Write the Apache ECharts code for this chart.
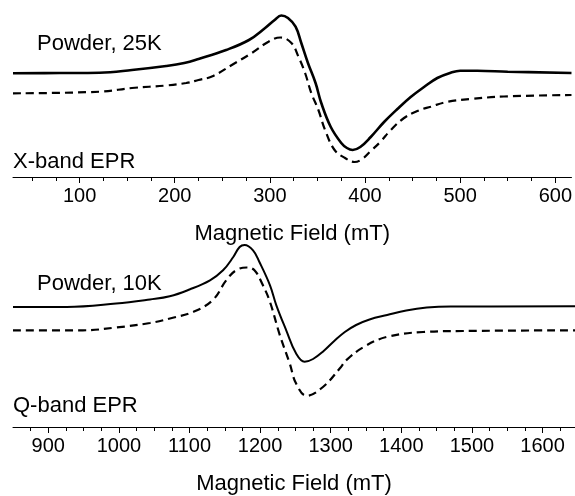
<!DOCTYPE html>
<html>
<head>
<meta charset="utf-8">
<script src="https://cdn.jsdelivr.net/npm/echarts@6/dist/echarts.min.js"></script>
<style>html,body{margin:0;padding:0;background:#fff}#c{width:575px;height:496px}</style>
</head>
<body>
<div id="c"></div>
<script>
// X-band (25 K) — field in mT, intensity in arbitrary units
const xbandMeasField = [30,79,121,155,191,210,225,254,278,295,305,312,319,327,333,340,348,354,364,375,381,387,395,406,420,434,448,462,476,490,500,518,550,617];
const xbandMeasVal   = [103.7,104,104.3,107,111,114,118,127,137,149,157,161.5,159,150.3,134,114,94,74,50,34,29,27,30,40,55,68,80,90,99,104.3,106.3,106.3,105.3,104];
const xbandSimField  = [30,121,155,191,212,225,239,260,281,298.5,311,322.6,330,337,343.5,351,358,368,379,389,397,406,416,427,441,455,469,487,511,546,617];
const xbandSimVal    = [83.7,85.3,89,91.5,94,97,100.5,112,124,135.3,139.5,134,120.3,104,84,67,47,27,19,15,18,26,35,47,59,66,70.3,75.3,78,80.5,82];
// Q-band (10 K)
const qbandMeasField = [850,926,996,1044,1072,1100,1129,1147.5,1162,1171,1178,1190,1199,1214,1223,1237,1251,1263,1275,1290,1305,1320,1336,1355,1380,1407,1436,1470,1646];
const qbandMeasVal   = [120,120,123.4,127.5,130.7,137.5,146.7,156.7,170,180,182,176.7,165,141.7,121.7,96.7,73.4,65.2,68,76,86,95,102,107.5,112,116.5,119.4,120.5,120.7];
const qbandSimField  = [850,949,996,1044,1075,1105,1133,1152,1166,1181,1192,1204,1214,1228,1242,1251,1266,1289,1313,1322,1346,1379,1431,1487,1646];
const qbandSimVal    = [96.7,96.7,99.5,104,109,115,127,146.7,156.7,159.5,156.7,141.7,125,91.7,63.4,43.4,31.2,40,58.7,66.7,79.7,90,95,96,96.7];
// tick labels
const xbandMajor = [100,200,300,400,500,600];
const xbandMinor = [50,75,125,150,175,225,250,275,325,350,375,425,450,475,525,550,575];
const qbandMajor = [900,1000,1100,1200,1300,1400,1500,1600];
const qbandMinor = [875,925,950,975,1025,1050,1075,1125,1150,1175,1225,1250,1275,1325,1350,1375,1425,1450,1475,1525,1550,1575,1625];
const axisTitle = 'Magnetic Field (mT)';
const labels = {xTemp:'Powder, 25K', xBand:'X-band EPR', qTemp:'Powder, 10K', qBand:'Q-band EPR'};

const zip = (a,b) => a.map((v,i)=>[v,b[i]]);
const FONT = '"Liberation Sans", Arial, sans-serif';

function majorAxis(grid, min, max, vals, name){
  return {type:'value', gridIndex:grid, min, max, position:'bottom',
    axisLine:{show:true, onZero:false, lineStyle:{color:'#000', width:1}},
    axisTick:{show:true, customValues:vals, length:6, lineStyle:{color:'#000', width:1}},
    axisLabel:{show:true, customValues:vals, margin:9, color:'#000', fontSize:20, fontFamily:FONT,
               formatter:(v)=>String(v)},
    splitLine:{show:false},
    name, nameLocation:'middle', nameGap:46,
    nameTextStyle:{color:'#000', fontSize:22, fontFamily:FONT}};
}
function minorAxis(grid, min, max, vals){
  return {type:'value', gridIndex:grid, min, max, position:'bottom',
    axisLine:{show:false, onZero:false},
    axisTick:{show:true, customValues:vals, length:4, lineStyle:{color:'#000', width:1}},
    axisLabel:{show:false}, splitLine:{show:false}};
}
function line(xi, yi, data, dashed, w){
  return {type:'line', xAxisIndex:xi, yAxisIndex:yi, data, showSymbol:false, symbol:'none',
    smooth:0.4, animation:false,
    lineStyle:{color:'#000', width:w, type: dashed ? [8,5] : 'solid'}};
}
const chart = echarts.init(document.getElementById('c'), null, {renderer:'canvas'});
chart.setOption({
  animation:false,
  backgroundColor:'#fff',
  grid:[{left:13, right:0, top:0, height:177, containLabel:false},
        {left:13, right:0, top:230, height:197, containLabel:false}],
  xAxis:[majorAxis(0,30,617,xbandMajor,axisTitle), minorAxis(0,30,617,xbandMinor),
         majorAxis(1,850,1646,qbandMajor,axisTitle), minorAxis(1,850,1646,qbandMinor)],
  yAxis:[{type:'value', gridIndex:0, min:0, max:177, show:false},
         {type:'value', gridIndex:1, min:0, max:197, show:false}],
  series:[
    line(0,0,zip(xbandMeasField,xbandMeasVal),false,2.6),
    line(0,0,zip(xbandSimField,xbandSimVal),true,2.2),
    line(2,1,zip(qbandMeasField,qbandMeasVal),false,2),
    line(2,1,zip(qbandSimField,qbandSimVal),true,2.2)
  ],
  graphic:[
    {type:'text', left:37, top:33, style:{text:labels.xTemp, fill:'#000', font:'22px '+FONT}},
    {type:'text', left:13, top:151, style:{text:labels.xBand, fill:'#000', font:'22px '+FONT}},
    {type:'text', left:37, top:273, style:{text:labels.qTemp, fill:'#000', font:'22px '+FONT}},
    {type:'text', left:13, top:395, style:{text:labels.qBand, fill:'#000', font:'22px '+FONT}}
  ]
});
</script>
</body>
</html>
